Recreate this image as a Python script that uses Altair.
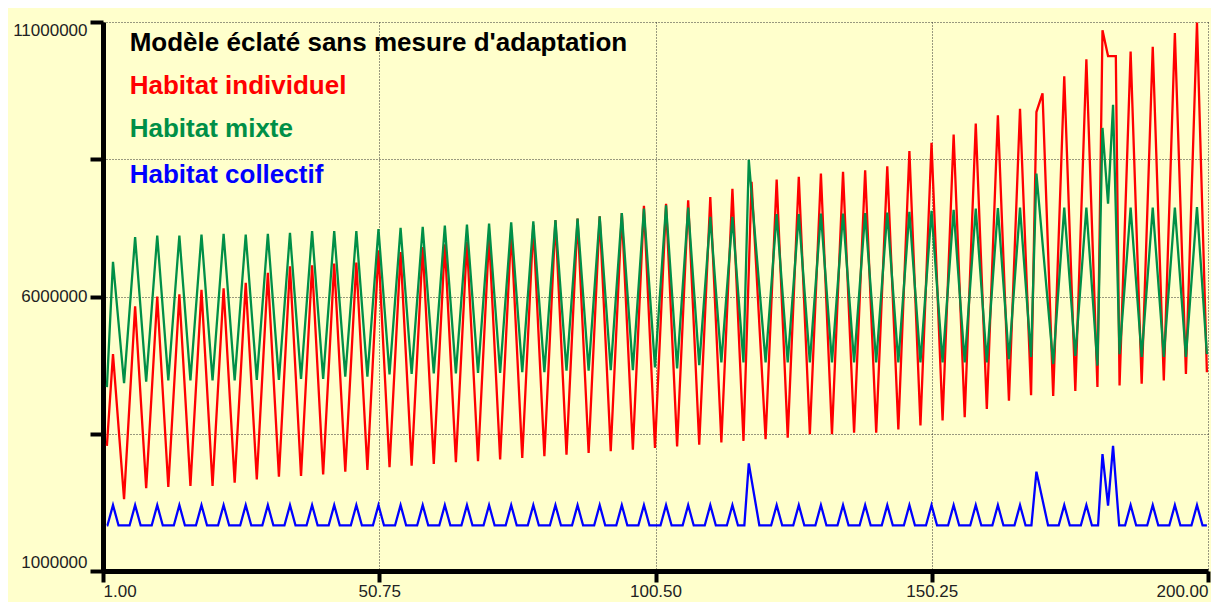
import altair as alt
import pandas as pd

# ---------------- data (values in millions) ----------------
N_CYCLES = 50
T0 = 2.8          # time of first peak
PERIOD = 3.984    # time between peaks
T_START = 1.7
T_END = 199.8

# Habitat individuel (red)
red_peaks = [4.95, 5.82, 6.00, 6.04, 6.12, 6.15, 6.25, 6.43, 6.55, 6.57,
             6.60, 6.62, 6.84, 6.81, 6.90, 6.95, 7.00, 7.10, 7.20, 7.30,
             7.39, 7.42, 7.46, 7.52, 7.65, 7.69, 7.75, 7.81, 7.96, None,
             8.13, 8.18, 8.24, 8.27, 8.30, 8.37, 8.65, 8.80, 8.95, 9.15,
             9.30, 9.42, None, 10.01, 10.32, None, 10.46, 10.55, 10.80, 10.99]
red_troughs = [2.31, 2.51, 2.53, 2.55, 2.55, 2.61, 2.67, 2.72, 2.73, 2.76,
               2.81, 2.84, 2.89, 2.92, 2.95, 2.98, 3.00, 3.03, 3.06, 3.09,
               3.12, 3.15, 3.18, 3.21, 3.24, 3.27, 3.30, 3.34, 3.37, 3.40,
               3.43, 3.49, 3.49, 3.52, 3.52, 3.58, 3.65, 3.74, 3.80, 3.95,
               4.10, 4.20, 4.19, 4.28, 4.35, 4.38, 4.41, 4.47, 4.59]
red_start, red_end = 3.28, 4.62
red_special = {29: [(117.8, 8.09)],
               42: [(169.1, 9.36), (170.2, 9.70)],
               45: [(181.0, 10.85), (182.0, 10.38), (183.4, 10.38)]}

# Habitat mixte (green)
green_peaks = [6.63, 7.08, 7.11, 7.11, 7.13, 7.14, 7.13, 7.14, 7.16, 7.19,
               7.19, 7.19, 7.23, 7.25, 7.27, 7.29, 7.31, 7.33, 7.35, 7.37,
               7.39, 7.42, 7.46, 7.52, 7.60, 7.66, 7.62, 7.45, 7.45, None,
               7.50, 7.50, 7.51, 7.51, 7.52, 7.53, 7.54, 7.56, 7.58, 7.60,
               7.61, 7.62, None, 7.62, 7.62, None, 7.62, 7.62, 7.62, 7.63]
green_troughs = [4.42, 4.45, 4.47, 4.47, 4.47, 4.47, 4.48, 4.48, 4.50, 4.50,
                 4.54, 4.54, 4.58, 4.59, 4.60, 4.60, 4.61, 4.61, 4.62, 4.62,
                 4.65, 4.65, 4.66, 4.66, 4.71, 4.69, 4.75, 4.80, 4.80, 4.80,
                 4.80, 4.80, 4.80, 4.80, 4.80, 4.80, 4.80, 4.80, 4.80, 4.80,
                 4.86, 4.90, 4.77, 4.92, 4.74, 4.95, 4.90, 4.90, 4.90]
green_start, green_end = 4.35, 4.95
green_special = {29: [(117.3, 8.49)],
                 42: [(169.1, 8.24)],
                 45: [(181.0, 9.07), (182.0, 7.69), (182.9, 9.49)]}

# Habitat collectif (blue)
blue_base = 1.83
blue_peaks = [2.20] * 29 + [None] + [2.20] * 12 + [None] + [2.20] * 2 + [None] + [2.20] * 4
blue_special = {29: [(116.5, 1.83), (117.3, 2.96), (119.2, 1.83)],
                42: [(168.2, 1.83), (169.1, 2.81), (171.2, 1.83)],
                45: [(180.2, 1.83), (181.0, 3.13), (182.0, 2.19), (182.9, 3.28), (184.0, 1.83)]}

x_ticks = [1.0, 50.75, 100.5, 150.25, 200.0]
y_ticks = [1000000, 3500000, 6000000, 8500000, 11000000]

title_text = "Modèle éclaté sans mesure d'adaptation"
legend_labels = ["Habitat individuel", "Habitat mixte", "Habitat collectif"]
legend_colors = ["#FF0000", "#008F47", "#0000FF"]


def zigzag(peaks, troughs, start, end, special):
    pts = [(T_START, start)]
    for k in range(N_CYCLES):
        tk = T0 + PERIOD * k
        if k in special:
            pts.extend(special[k])
        else:
            pts.append((tk, peaks[k]))
        if k < len(troughs):
            pts.append((tk + PERIOD / 2, troughs[k]))
    pts.append((T_END, end))
    return pd.DataFrame({"t": [p[0] for p in pts], "v": [p[1] * 1e6 for p in pts]})


def bumps(peaks, base, special):
    pts = [(T_START, base)]
    for k in range(N_CYCLES):
        tk = T0 + PERIOD * k
        if k in special:
            pts.extend(special[k])
        else:
            pts.extend([(tk - 1, base), (tk, peaks[k]), (tk + 1, base)])
    pts.append((T_END, base))
    return pd.DataFrame({"t": [p[0] for p in pts], "v": [p[1] * 1e6 for p in pts]})


red_df = zigzag(red_peaks, red_troughs, red_start, red_end, red_special)
green_df = zigzag(green_peaks, green_troughs, green_start, green_end, green_special)
blue_df = bumps(blue_peaks, blue_base, blue_special)

FONT = "Liberation Sans"

x_enc = alt.X("t:Q",
              scale=alt.Scale(domain=[1, 200], nice=False, zero=False),
              axis=alt.Axis(values=x_ticks, format=".2f", title=None, labelFlush=True,
                            grid=True, gridDash=[1, 2], gridColor="#333333", gridWidth=1,
                            domainColor="#000000", domainWidth=5,
                            tickColor="#000000", tickWidth=4, tickSize=11,
                            labelFont=FONT, labelFontSize=17, labelColor="#222222",
                            labelPadding=1))
y_enc = alt.Y("v:Q",
              scale=alt.Scale(domain=[1000000, 11000000], nice=False, zero=False),
              axis=alt.Axis(values=y_ticks, title=None, labelFlush=True,
                            labelExpr="(datum.value == 3500000 || datum.value == 8500000) ? '' : format(datum.value, 'd')",
                            grid=True, gridDash=[1, 2], gridColor="#333333", gridWidth=1,
                            domainColor="#000000", domainWidth=5,
                            tickColor="#000000", tickWidth=4, tickSize=13,
                            labelFont=FONT, labelFontSize=17, labelColor="#222222",
                            labelPadding=3))


def line(df, color):
    return alt.Chart(df).mark_line(color=color, strokeWidth=2.3, clip=True).encode(
        x=x_enc, y=y_enc, order="t:Q")


layers = [line(red_df, legend_colors[0]), line(green_df, legend_colors[1]), line(blue_df, legend_colors[2])]

text_rows = [(title_text, "#000000")] + list(zip(legend_labels, legend_colors))
text_y = [29.3, 71.7, 115.3, 161.0]
for (txt, col), ty in zip(text_rows, text_y):
    layers.append(
        alt.Chart(pd.DataFrame({"label": [txt]})).mark_text(
            align="left", baseline="alphabetic", font=FONT, fontSize=26,
            fontWeight="bold", color=col
        ).encode(x=alt.value(26.7), y=alt.value(ty), text="label:N")
    )

chart = alt.layer(*layers).properties(
    width=1105, height=549,
    autosize="none",
    padding={"left": 95, "top": 14, "right": 3, "bottom": 31},
    background="#FFFFCC",
).configure_view(fill="#FFFFCC", strokeWidth=0)

chart.save("out.html", embed_options={"renderer": "svg", "actions": False})
